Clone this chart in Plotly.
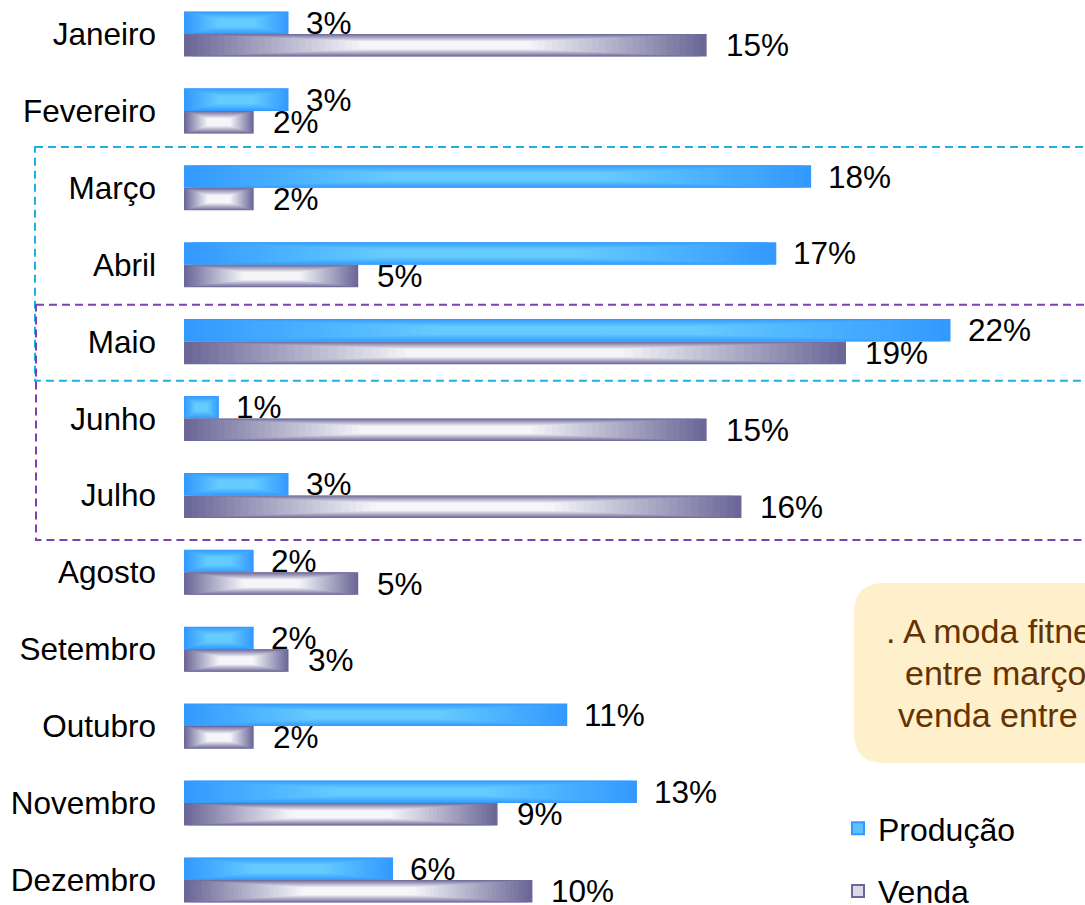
import plotly.graph_objects as go

# Monthly shares (%) of production and sales
months = ["Janeiro", "Fevereiro", "Março", "Abril", "Maio", "Junho",
          "Julho", "Agosto", "Setembro", "Outubro", "Novembro", "Dezembro"]
producao = [3, 3, 18, 17, 22, 1, 3, 2, 2, 11, 13, 6]
venda = [15, 2, 2, 5, 19, 15, 16, 5, 3, 2, 9, 10]

FONT = "Liberation Sans"
W = 0.293          # thickness of one bar (in category units)
N_LAYERS = 36      # concentric layers used to imitate the path gradient

W_PX, H_PX = 1085, 905
L_MARGIN = 184


def hex_rgb(h):
    h = h.lstrip("#")
    return tuple(int(h[i:i + 2], 16) for i in (0, 2, 4))


def mix(c1, c2, f):
    a, b = hex_rgb(c1), hex_rgb(c2)
    r = [round(a[i] + (b[i] - a[i]) * f) for i in range(3)]
    return f"rgb({r[0]},{r[1]},{r[2]})"


idx = list(range(len(months)))
fig = go.Figure()


def add_series(name, values, offset, edge, centre):
    # legend entry: light centre framed by the edge colour
    fig.add_trace(go.Bar(
        y=[None], x=[None], orientation="h", name=name, legendgroup=name,
        marker=dict(color=mix(edge, centre, 0.8), line=dict(color=edge, width=2)),
        showlegend=True, hoverinfo="skip",
    ))
    for k in range(N_LAYERS):
        t = k / (N_LAYERS - 1)
        s = 0.9 * t
        f = min(1.0, t / 0.75)
        fig.add_trace(go.Bar(
            y=idx,
            x=[v * (1 - s) for v in values],
            base=[v * s / 2 for v in values],
            orientation="h",
            width=W * (1 - s),
            offset=offset + W * s / 2,
            marker=dict(color=mix(edge, centre, f), line=dict(width=0)),
            name=name,
            legendgroup=name,
            showlegend=False,
            hoverinfo=None if k == 0 else "skip",
            customdata=values,
            hovertemplate="%{customdata}%<extra>" + name + "</extra>",
        ))


add_series("Produção", producao, -W, "#3399FF", "#66CCFF")
add_series("Venda", venda, 0.0, "#6B6797", "#F6F6FA")

LABEL_SIZE = 31.5
annotations = []
for i, v in enumerate(producao):
    annotations.append(dict(x=v, y=i - W / 2, xref="x", yref="y", text=f"{v}%",
                            xanchor="left", yanchor="middle", xshift=15,
                            showarrow=False,
                            font=dict(size=LABEL_SIZE, color="#000000", family=FONT)))
for i, v in enumerate(venda):
    annotations.append(dict(x=v, y=i + W / 2, xref="x", yref="y", text=f"{v}%",
                            xanchor="left", yanchor="middle", xshift=17,
                            showarrow=False,
                            font=dict(size=LABEL_SIZE, color="#000000", family=FONT)))


def px_x(p):
    return (p - L_MARGIN) / (W_PX - L_MARGIN)


def px_y(p):
    return 1 - p / H_PX


# Note box (rounded rectangle)
bx0, by0, bx1, by1, rad = 854, 583, 1125, 763, 30
rx = rad / (W_PX - L_MARGIN)
ry = rad / H_PX
X0, X1, Y0, Y1 = px_x(bx0), px_x(bx1), px_y(by1), px_y(by0)
box_path = (f"M {X0 + rx},{Y1} L {X1 - rx},{Y1} Q {X1},{Y1} {X1},{Y1 - ry} "
            f"L {X1},{Y0 + ry} Q {X1},{Y0} {X1 - rx},{Y0} L {X0 + rx},{Y0} "
            f"Q {X0},{Y0} {X0},{Y0 + ry} L {X0},{Y1 - ry} Q {X0},{Y1} {X0 + rx},{Y1} Z")

note_lines = [
    (884, 631, ". A moda fitness teve maior produção"),
    (903, 673, "entre março e maio e maior"),
    (896, 715, "venda entre maio e julho."),
]
for x, y, txt in note_lines:
    annotations.append(dict(x=px_x(x), y=px_y(y), xref="paper", yref="paper", text=txt,
                            xanchor="left", yanchor="middle", showarrow=False,
                            font=dict(size=34, color="#663300", family=FONT)))

shapes = [
    dict(type="path", path=box_path, xref="paper", yref="paper",
         fillcolor="#FFF0CC", line=dict(width=0), layer="below"),
    dict(type="rect", xref="paper", yref="y", x0=px_x(35), x1=1.05, y0=1.47, y1=4.51,
         line=dict(color="#1DB1E6", width=2, dash="8px,5px"), fillcolor="rgba(0,0,0,0)"),
    dict(type="rect", xref="paper", yref="y", x0=px_x(36), x1=1.05, y0=3.52, y1=6.58,
         line=dict(color="#7F40B5", width=2, dash="8px,5px"), fillcolor="rgba(0,0,0,0)"),
]

fig.update_layout(
    width=W_PX, height=H_PX,
    margin=dict(l=L_MARGIN, r=0, t=0, b=0, autoexpand=False),
    paper_bgcolor="white", plot_bgcolor="white",
    barmode="overlay",
    font=dict(family=FONT, size=31.5, color="#000000"),
    xaxis=dict(range=[0, 25.86], visible=False, showgrid=False, zeroline=False),
    yaxis=dict(range=[11.326, -0.442], tickmode="array", tickvals=idx, ticktext=months,
               showgrid=False, zeroline=False, showline=False, ticks="",
               automargin=False, ticklabelstandoff=27,
               tickfont=dict(size=31.5, family=FONT, color="#000000")),
    legend=dict(x=px_x(838), y=px_y(801), xanchor="left", yanchor="top",
                traceorder="grouped", tracegroupgap=18, bgcolor="rgba(0,0,0,0)",
                font=dict(size=32, family=FONT, color="#000000")),
    shapes=shapes,
    annotations=annotations,
)

fig.write_html("out.html")
